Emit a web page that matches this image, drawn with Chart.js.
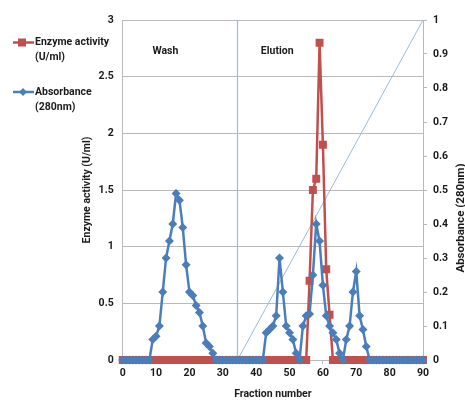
<!DOCTYPE html>
<html>
<head>
<meta charset="utf-8">
<script src="https://cdn.jsdelivr.net/npm/chart.js@4/dist/chart.umd.min.js"></script>
<style>
  html, body { margin: 0; padding: 0; background: #ffffff; }
  #wrap { position: relative; width: 465px; height: 401px; }
</style>
</head>
<body>
<div id="wrap"><canvas id="c" width="465" height="401"></canvas></div>
<script>
// ---- data ----
const fractions = [0,1,2,3,4,5,6,7,8,9,10,11,12,13,14,15,16,17,18,19,20,21,22,23,24,25,26,27,28,29,30,
  31,32,33,34,35,36,37,38,39,40,41,42,43,44,45,46,47,48,49,50,51,52,53,54,55,56,57,58,59,60,
  61,62,63,64,65,66,67,68,69,70,71,72,73,74,75,76,77,78,79,80,81,82,83,84,85,86,87,88,89,90];

// Enzyme activity (U/ml), left axis
const enzymeActivity = [0,0,0,0,0,0,0,0,0,0,0,0,0,0,0,0,0,0,0,0,0,0,0,0,0,0,0,0,0,0,0,
  0,0,0,0,0,0,0,0,0,0,0,0,0,0,0,0,0,0,0,0,0,0,0,0,0,0.70,1.50,1.60,2.80,1.90,
  0.80,0.40,0,0,0,0,0,0,0,0,0,0,0,0,0,0,0,0,0,0,0,0,0,0,0,0,0,0,0,0];

// Absorbance (280nm), right axis
const absorbance = [0,0,0,0,0,0,0,0,0,0.06,0.07,0.10,0.20,0.30,0.35,0.40,0.49,0.47,0.39,0.28,0.20,
  0.19,0.16,0.14,0.10,0.05,0.04,0.02,0,0,0,
  0,0,0,0,0,0,0,0,0,0,0,0,0.08,0.09,0.10,0.13,0.30,0.20,0.10,0.08,
  0.06,0.02,0,0.10,0.13,0.135,0.25,0.40,0.35,0.22,
  0.13,0.10,0.08,0.06,0.02,0,0.06,0.10,0.20,0.26,0.13,0.09,0.04,0,0,0,0,0,0,0,0,0,0,0,0,0,0,0,0,0];

// wash / elution divider and elution gradient
const dividerX = [34.4, 34.4];
const dividerY = [0, 3];
const gradientX = [34.4, 90];
const gradientY = [0, 1];

const xTicks = [0,10,20,30,40,50,60,70,80,90];
const leftTicks = [0,0.5,1,1.5,2,2.5,3];
const rightTicks = [0,0.1,0.2,0.3,0.4,0.5,0.6,0.7,0.8,0.9,1];

const labels = {
  wash: 'Wash', elution: 'Elution',
  enzyme: ['Enzyme activity', '(U/ml)'],
  abs: ['Absorbance', '(280nm)'],
  yLeft: 'Enzyme activity (U/ml)',
  yRight: 'Absorbance (280nm)',
  x: 'Fraction number'
};

const RED = '#c0504d';
const BLUE = '#4a7ebb';
const LIGHTBLUE = '#9bbbd9';
const GRID = '#b9b9b9';
const TXT = '#1a1a1a';
const FONT = 'Roboto, "Liberation Sans", sans-serif';
const FS = 10.5;

const pts = (xs, ys) => xs.map((x, i) => ({x: x, y: ys[i]}));
const plain = v => String(Math.round(v * 100) / 100);

const overlay = {
  id: 'overlay',
  afterDraw(chart) {
    const ctx = chart.ctx;
    const xs = chart.scales.x, yl = chart.scales.y;
    ctx.save();
    ctx.fillStyle = TXT;
    ctx.font = 'bold ' + FS + 'px ' + FONT;
    ctx.textBaseline = 'middle';
    ctx.textAlign = 'center';
    ctx.fillText(labels.wash, xs.getPixelForValue(12.8), yl.getPixelForValue(2.72));
    ctx.fillText(labels.elution, xs.getPixelForValue(46.3), yl.getPixelForValue(2.72));

    // legend
    ctx.textAlign = 'left';
    const items = [
      {t: labels.enzyme, c: RED, y: 42.5, shape: 'sq'},
      {t: labels.abs, c: BLUE, y: 92, shape: 'dm'}
    ];
    items.forEach(it => {
      ctx.strokeStyle = it.c; ctx.fillStyle = it.c; ctx.lineWidth = 2.5;
      ctx.beginPath(); ctx.moveTo(13, it.y); ctx.lineTo(34, it.y); ctx.stroke();
      ctx.beginPath();
      if (it.shape === 'sq') { ctx.rect(22 - 4, it.y - 4, 8, 8); }
      else { ctx.moveTo(23, it.y - 4); ctx.lineTo(27, it.y); ctx.lineTo(23, it.y + 4); ctx.lineTo(19, it.y); ctx.closePath(); }
      ctx.fill();
      ctx.fillStyle = TXT;
      ctx.fillText(it.t[0], 35, it.y);
      ctx.fillText(it.t[1], 35, it.y + 15);
    });

    // right axis title
    ctx.translate(461, 218);
    ctx.rotate(-Math.PI / 2);
    ctx.textAlign = 'center';
    ctx.font = 'bold 11.5px ' + FONT;
    ctx.fillText(labels.yRight, 0, 0);
    ctx.restore();
  }
};

Chart.defaults.font.family = FONT;
Chart.defaults.color = TXT;

new Chart(document.getElementById('c'), {
  type: 'scatter',
  data: {
    datasets: [
      {
        label: 'Absorbance (280nm)', data: pts(fractions, absorbance), yAxisID: 'y2',
        showLine: true, borderColor: BLUE, backgroundColor: BLUE, borderWidth: 2.5,
        pointStyle: 'rectRot', pointRadius: 4.5, pointBorderWidth: 0, order: 1, clip: 12
      },
      {
        label: 'Enzyme activity (U/ml)', data: pts(fractions, enzymeActivity), yAxisID: 'y',
        showLine: true, borderColor: RED, backgroundColor: RED, borderWidth: 2.5,
        pointStyle: 'rect', pointRadius: 5.6, pointBorderWidth: 0, order: 2, clip: 12
      },
      {
        label: 'gradient', data: pts(gradientX, gradientY), yAxisID: 'y2',
        showLine: true, borderColor: LIGHTBLUE, borderWidth: 1, pointRadius: 0, order: 3
      },
      {
        label: 'divider', data: pts(dividerX, dividerY), yAxisID: 'y',
        showLine: true, borderColor: LIGHTBLUE, borderWidth: 1.2, pointRadius: 0, order: 4
      }
    ]
  },
  options: {
    responsive: false,
    animation: false,
    layout: { padding: { top: 20, left: 0, right: 0, bottom: 0 } },
    plugins: { legend: { display: false }, tooltip: { enabled: false } },
    scales: {
      x: {
        type: 'linear', min: 0, max: 90,
        afterBuildTicks: s => { s.ticks = xTicks.map(v => ({value: v})); },
        afterFit: s => { s.height = 41; },
        grid: { drawOnChartArea: false, drawTicks: true, tickLength: 4, color: GRID },
        border: { display: true, color: GRID, width: 1 },
        ticks: { padding: 3, font: { size: FS, weight: 'bold' }, color: TXT, maxRotation: 0, callback: plain },
        title: { display: true, text: labels.x, font: { size: FS, weight: 'bold' }, padding: { top: 0, bottom: 0 }, color: TXT }
      },
      y: {
        type: 'linear', position: 'left', min: 0, max: 3,
        afterBuildTicks: s => { s.ticks = leftTicks.map(v => ({value: v})); },
        afterFit: s => { s.width = 122.7; },
        grid: { color: GRID, drawTicks: false, lineWidth: 1 },
        border: { display: true, color: GRID, width: 1 },
        ticks: { padding: 9, font: { size: FS, weight: 'bold' }, color: TXT, callback: plain },
        title: { display: true, text: labels.yLeft, font: { size: FS, weight: 'bold' }, padding: { top: 81.5, bottom: 0 }, color: TXT }
      },
      y2: {
        type: 'linear', position: 'right', min: 0, max: 1,
        afterBuildTicks: s => { s.ticks = rightTicks.map(v => ({value: v})); },
        afterFit: s => { s.width = 42; },
        grid: { drawOnChartArea: false, drawTicks: true, tickLength: 4, color: GRID },
        border: { display: true, color: GRID, width: 1 },
        ticks: { padding: 6, font: { size: FS, weight: 'bold' }, color: TXT, callback: plain }
      }
    }
  },
  plugins: [overlay]
});
</script>
</body>
</html>
